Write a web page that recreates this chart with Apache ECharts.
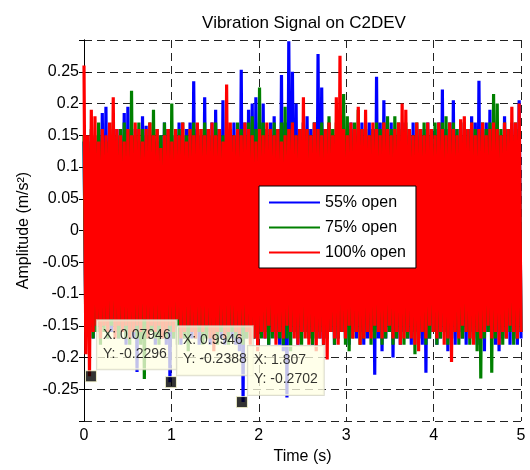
<!DOCTYPE html>
<html>
<head>
<meta charset="utf-8">
<title>Vibration Signal on C2DEV</title>
<script src="https://cdn.jsdelivr.net/npm/echarts@6/dist/echarts.min.js"></script>
<style>
  html, body { margin: 0; padding: 0; background: #fff; }
  #main { width: 530px; height: 470px; }
</style>
</head>
<body>
<div id="main"></div>
<script>
// series names
var names = ['55% open', '75% open', '100% open'];
var colors = ['#0000ff', '#008000', '#ff0000'];

// positive peaks / negative troughs of each signal (m/s^2)
var hi55 = [
  0.14, 0.13, 0.15, 0.14, 0.16, 0.185, 0.195, 0.15, 0.14, 0.16, 0.15, 0.185,
  0.195, 0.15, 0.16, 0.14, 0.18, 0.165, 0.15, 0.16, 0.14, 0.15, 0.17, 0.16,
  0.15, 0.14, 0.17, 0.15, 0.16, 0.17, 0.235, 0.16, 0.15, 0.21, 0.16, 0.17,
  0.19, 0.16, 0.205, 0.15, 0.16, 0.17, 0.16, 0.253, 0.17, 0.19, 0.2, 0.21,
  0.17, 0.2, 0.16, 0.17, 0.18, 0.16, 0.245, 0.17, 0.298, 0.25, 0.2, 0.16,
  0.17, 0.18, 0.16, 0.17, 0.278, 0.225, 0.16, 0.17, 0.15, 0.16, 0.17, 0.15,
  0.16, 0.17, 0.16, 0.15, 0.17, 0.16, 0.17, 0.16, 0.242, 0.17, 0.205, 0.16,
  0.17, 0.15, 0.16, 0.17, 0.16, 0.15, 0.17, 0.16, 0.15, 0.16, 0.17, 0.15,
  0.16, 0.17, 0.222, 0.16, 0.17, 0.205, 0.16, 0.15, 0.17, 0.16, 0.18, 0.17,
  0.236, 0.16, 0.17, 0.19, 0.16, 0.17, 0.15, 0.18, 0.16, 0.17, 0.16, 0.205
];
var lo55 = [
  -0.15, -0.16, -0.17, -0.15, -0.16, -0.14, -0.17, -0.16, -0.15, -0.17, -0.16, -0.18,
  -0.16, -0.17, -0.223, -0.16, -0.15, -0.17, -0.16, -0.18, -0.16, -0.17, -0.18, -0.2388,
  -0.17, -0.16, -0.18, -0.17, -0.16, -0.17, -0.16, -0.18, -0.17, -0.16, -0.18, -0.17,
  -0.16, -0.17, -0.18, -0.16, -0.17, -0.18, -0.19, -0.2702, -0.17, -0.16, -0.17, -0.18,
  -0.16, -0.17, -0.18, -0.16, -0.17, -0.18, -0.19, -0.263, -0.17, -0.16, -0.18, -0.17,
  -0.16, -0.17, -0.18, -0.16, -0.17, -0.18, -0.17, -0.16, -0.18, -0.17, -0.16, -0.17,
  -0.18, -0.16, -0.17, -0.16, -0.18, -0.17, -0.16, -0.227, -0.17, -0.19, -0.17, -0.16,
  -0.2, -0.17, -0.18, -0.16, -0.17, -0.18, -0.16, -0.17, -0.18, -0.224, -0.17, -0.16,
  -0.18, -0.17, -0.16, -0.19, -0.17, -0.18, -0.16, -0.17, -0.18, -0.16, -0.17, -0.18,
  -0.17, -0.19, -0.16, -0.17, -0.18, -0.19, -0.17, -0.16, -0.18, -0.17, -0.18, -0.17
];
var hi75 = [
  0.15, 0.14, 0.16, 0.15, 0.17, 0.15, 0.14, 0.16, 0.17, 0.15, 0.16, 0.17,
  0.16, 0.22, 0.15, 0.17, 0.16, 0.15, 0.17, 0.19, 0.16, 0.15, 0.17, 0.16,
  0.2, 0.15, 0.16, 0.17, 0.15, 0.16, 0.17, 0.15, 0.16, 0.17, 0.16, 0.15,
  0.17, 0.16, 0.15, 0.17, 0.16, 0.15, 0.17, 0.16, 0.15, 0.17, 0.18, 0.16,
  0.225, 0.17, 0.16, 0.15, 0.17, 0.16, 0.17, 0.195, 0.16, 0.17, 0.15, 0.16,
  0.17, 0.16, 0.15, 0.17, 0.16, 0.17, 0.16, 0.18, 0.16, 0.17, 0.16, 0.215,
  0.18, 0.16, 0.17, 0.19, 0.16, 0.17, 0.15, 0.16, 0.17, 0.16, 0.17, 0.18,
  0.16, 0.18, 0.17, 0.16, 0.17, 0.16, 0.15, 0.17, 0.16, 0.17, 0.16, 0.15,
  0.17, 0.16, 0.17, 0.18, 0.16, 0.17, 0.16, 0.15, 0.17, 0.16, 0.17, 0.16,
  0.15, 0.17, 0.16, 0.17, 0.215, 0.2, 0.16, 0.17, 0.16, 0.15, 0.17, 0.16
];
var lo75 = [
  -0.16, -0.15, -0.17, -0.16, -0.18, -0.16, -0.17, -0.15, -0.16, -0.17, -0.16, -0.17,
  -0.18, -0.16, -0.17, -0.18, -0.234, -0.17, -0.16, -0.17, -0.18, -0.16, -0.17, -0.16,
  -0.17, -0.18, -0.16, -0.17, -0.19, -0.16, -0.17, -0.16, -0.18, -0.17, -0.16, -0.17,
  -0.18, -0.16, -0.17, -0.18, -0.16, -0.17, -0.16, -0.18, -0.17, -0.16, -0.17, -0.18,
  -0.17, -0.16, -0.18, -0.17, -0.16, -0.17, -0.18, -0.17, -0.19, -0.16, -0.17, -0.18,
  -0.16, -0.17, -0.18, -0.17, -0.16, -0.18, -0.17, -0.16, -0.18, -0.17, -0.16, -0.18,
  -0.19, -0.17, -0.16, -0.18, -0.17, -0.16, -0.18, -0.17, -0.16, -0.18, -0.17, -0.16,
  -0.18, -0.17, -0.16, -0.18, -0.17, -0.16, -0.195, -0.17, -0.16, -0.18, -0.17, -0.16,
  -0.18, -0.17, -0.16, -0.18, -0.17, -0.16, -0.18, -0.17, -0.16, -0.18, -0.17, -0.19,
  -0.233, -0.17, -0.16, -0.224, -0.17, -0.16, -0.18, -0.17, -0.16, -0.18, -0.17, -0.16
];
var hi100 = [
  0.26, 0.15, 0.19, 0.18, 0.14, 0.16, 0.15, 0.17, 0.21, 0.16, 0.15, 0.14,
  0.16, 0.15, 0.17, 0.16, 0.14, 0.16, 0.17, 0.15, 0.16, 0.13, 0.15, 0.16,
  0.14, 0.16, 0.15, 0.17, 0.14, 0.16, 0.15, 0.17, 0.16, 0.15, 0.16, 0.17,
  0.15, 0.16, 0.14, 0.23, 0.17, 0.15, 0.16, 0.15, 0.17, 0.16, 0.15, 0.14,
  0.16, 0.15, 0.17, 0.16, 0.15, 0.16, 0.14, 0.15, 0.16, 0.17, 0.15, 0.16,
  0.21, 0.16, 0.15, 0.17, 0.16, 0.15, 0.16, 0.17, 0.15, 0.21, 0.275, 0.16,
  0.15, 0.17, 0.16, 0.195, 0.16, 0.19, 0.15, 0.17, 0.16, 0.15, 0.17, 0.16,
  0.15, 0.16, 0.17, 0.2, 0.19, 0.16, 0.15, 0.17, 0.16, 0.15, 0.17, 0.16,
  0.15, 0.17, 0.16, 0.15, 0.17, 0.16, 0.15, 0.175, 0.18, 0.16, 0.17, 0.15,
  0.16, 0.17, 0.15, 0.16, 0.17, 0.16, 0.15, 0.17, 0.16, 0.195, 0.17, 0.2
];
var lo100 = [
  -0.195, -0.2296, -0.16, -0.15, -0.17, -0.15, -0.16, -0.14, -0.17, -0.15, -0.16, -0.15,
  -0.17, -0.16, -0.15, -0.16, -0.14, -0.17, -0.15, -0.16, -0.15, -0.17, -0.16, -0.15,
  -0.16, -0.14, -0.17, -0.16, -0.15, -0.16, -0.17, -0.15, -0.16, -0.15, -0.17, -0.19,
  -0.16, -0.15, -0.17, -0.16, -0.15, -0.16, -0.17, -0.15, -0.16, -0.18, -0.17, -0.19,
  -0.16, -0.17, -0.15, -0.16, -0.18, -0.16, -0.17, -0.15, -0.16, -0.17, -0.18, -0.16,
  -0.17, -0.18, -0.16, -0.19, -0.17, -0.18, -0.203, -0.16, -0.17, -0.18, -0.16, -0.17,
  -0.15, -0.17, -0.16, -0.18, -0.17, -0.16, -0.17, -0.15, -0.16, -0.17, -0.16, -0.15,
  -0.17, -0.16, -0.18, -0.17, -0.16, -0.17, -0.18, -0.19, -0.16, -0.17, -0.15, -0.16,
  -0.17, -0.16, -0.18, -0.17, -0.207, -0.16, -0.17, -0.15, -0.16, -0.17, -0.18, -0.16,
  -0.17, -0.16, -0.15, -0.17, -0.16, -0.18, -0.16, -0.17, -0.15, -0.16, -0.17, -0.16
];

// data tips (x in s, y in m/s^2)
var tipX = [0.07946, 0.9946, 1.807];
var tipY = [-0.2296, -0.2388, -0.2702];

var T_END = 5;

// peaks and troughs alternate in time, evenly spaced over 0..5 s
function zigzag(hi, lo) {
  var n = hi.length;
  var dt = T_END / (2 * n - 1);
  var out = [];
  for (var i = 0; i < n; i++) {
    out.push([2 * i * dt, hi[i]]);
    out.push([(2 * i + 1) * dt, lo[i]]);
  }
  return out;
}

var signals = [zigzag(hi55, lo55), zigzag(hi75, lo75), zigzag(hi100, lo100)];

var FONT = 'Liberation Sans, Arial, Helvetica, sans-serif';

var myChart = echarts.init(document.getElementById('main'));

var series = signals.map(function (d, k) {
  return {
    name: names[k],
    type: 'line',
    data: d,
    showSymbol: false,
    symbol: 'none',
    color: colors[k],
    lineStyle: { width: 3.2, color: colors[k], join: 'bevel' },
    z: 2
  };
});

series.push({
  name: 'tips',
  type: 'scatter',
  data: tipX.map(function (x, i) { return [x, tipY[i]]; }),
  symbol: 'rect',
  symbolSize: 11,
  itemStyle: { color: '#000', borderColor: '#ffffd0', borderWidth: 1 },
  z: 10,
  label: {
    show: true,
    position: [12, -1],
    align: 'left',
    verticalAlign: 'bottom',
    formatter: function (p) {
      return 'X: ' + tipX[p.dataIndex] + '\nY: ' + tipY[p.dataIndex];
    },
    fontFamily: FONT,
    fontSize: 14,
    lineHeight: 19,
    color: '#000',
    backgroundColor: 'rgba(255,255,228,0.95)',
    borderColor: '#d4d4c4',
    borderWidth: 1,
    padding: [5, 6, 6, 6]
  }
});

myChart.setOption({
  animation: false,
  backgroundColor: '#fff',
  title: {
    text: 'Vibration Signal on C2DEV',
    left: 299,
    top: 10,
    textAlign: 'center',
    textStyle: { fontFamily: FONT, fontSize: 17, fontWeight: 'normal', color: '#000' }
  },
  legend: {
    z: 20,
    orient: 'vertical',
    left: 259,
    top: 186,
    data: names.map(function (n) { return { name: n, icon: 'rect' }; }),
    itemWidth: 51,
    itemHeight: 2,
    itemGap: 8,
    padding: [8, 10, 7, 10],
    backgroundColor: '#fff',
    borderColor: '#000',
    borderWidth: 1,
    borderRadius: 0,
    textStyle: { fontFamily: FONT, fontSize: 16, color: '#000', lineHeight: 17 }
  },
  grid: { left: 84, right: 9, top: 40, bottom: 47, containLabel: false },
  xAxis: [{
    type: 'value',
    min: 0,
    max: 5,
    interval: 1,
    name: 'Time (s)',
    nameLocation: 'middle',
    nameGap: 28,
    nameTextStyle: { fontFamily: FONT, fontSize: 16, color: '#000' },
    axisLine: { show: true, lineStyle: { color: '#000', width: 1 } },
    axisTick: { show: true, inside: true, length: 5, lineStyle: { color: '#000' } },
    axisLabel: { fontFamily: FONT, fontSize: 16, color: '#000', margin: 7 },
    splitLine: { show: true, lineStyle: { color: '#222', type: [8, 5], width: 1 } }
  }, {
    type: 'value',
    position: 'top',
    min: 0,
    max: 5,
    interval: 1,
    axisLine: { show: true, lineStyle: { color: '#000', width: 1 } },
    axisTick: { show: true, inside: true, length: 5, lineStyle: { color: '#000' } },
    axisLabel: { show: false },
    splitLine: { show: false }
  }],
  yAxis: [{
    type: 'value',
    min: -0.3,
    max: 0.3,
    interval: 0.05,
    name: 'Amplitude (m/s²)',
    nameLocation: 'middle',
    nameGap: 52,
    nameTextStyle: { fontFamily: FONT, fontSize: 16, color: '#000' },
    axisLine: { show: true, lineStyle: { color: '#000', width: 1 } },
    axisTick: { show: true, inside: true, length: 5, lineStyle: { color: '#000' } },
    axisLabel: {
      fontFamily: FONT, fontSize: 16, color: '#000', margin: 5,
      showMinLabel: false, showMaxLabel: false
    },
    splitLine: { show: true, lineStyle: { color: '#222', type: [8, 5], width: 1 } }
  }, {
    type: 'value',
    position: 'right',
    min: -0.3,
    max: 0.3,
    interval: 0.05,
    axisLine: { show: true, lineStyle: { color: '#000', width: 1 } },
    axisTick: { show: true, inside: true, length: 5, lineStyle: { color: '#000' } },
    axisLabel: { show: false },
    splitLine: { show: false }
  }],
  series: series
});
</script>
</body>
</html>
